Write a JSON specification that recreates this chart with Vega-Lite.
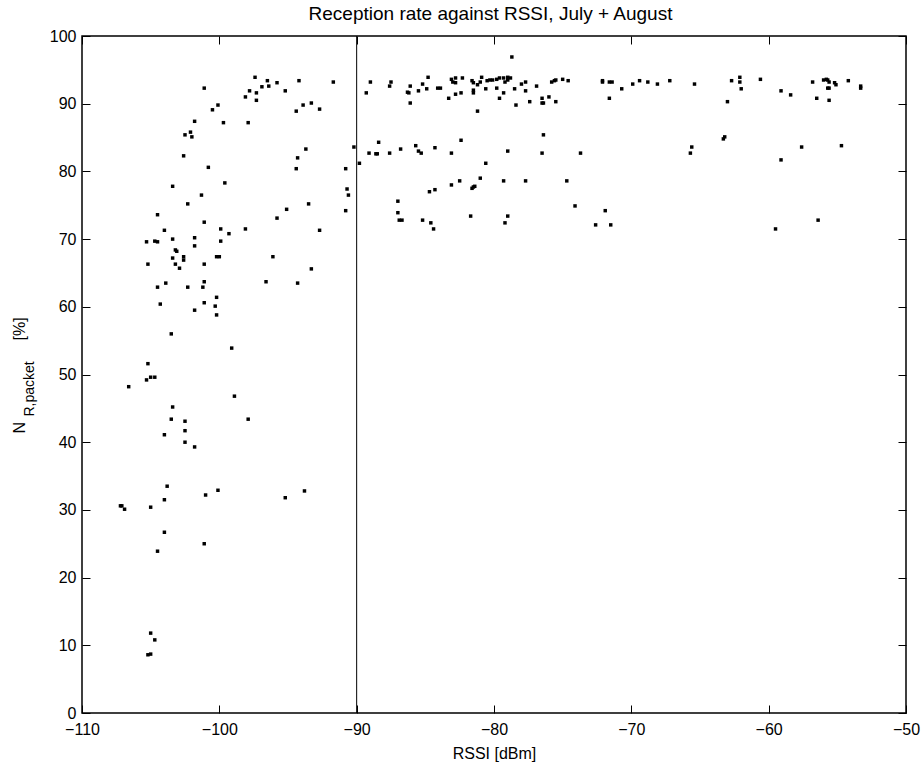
{
  "$schema": "https://vega.github.io/schema/vega-lite/v6.json",
  "width": 824,
  "height": 677,
  "autosize": {"type": "none"},
  "padding": {"left": 82, "top": 36, "right": 16, "bottom": 54},
  "background": "white",
  "config": {
    "view": {"stroke": "#000", "strokeWidth": 1.5},
    "axis": {"grid": false, "domain": false, "tickColor": "#000", "tickSize": 8, "offset": -8, "tickWidth": 1, "labelColor": "#000", "labelFont": "Liberation Sans", "labelFontSize": 16, "titleFont": "Liberation Sans", "titleColor": "#000", "titleFontWeight": "normal"}
  },
  "datasets": {
    "pts": [
      {"rssi": -97.4, "n": 93.9}, {"rssi": -96.5, "n": 93.4}, {"rssi": -96.4, "n": 92.6}, {"rssi": -96.9, "n": 92.5},
      {"rssi": -97.3, "n": 91.6}, {"rssi": -97.8, "n": 91.9}, {"rssi": -98.1, "n": 91.0}, {"rssi": -97.3, "n": 90.5},
      {"rssi": -95.8, "n": 93.1}, {"rssi": -101.1, "n": 92.3}, {"rssi": -100.1, "n": 89.8}, {"rssi": -100.5, "n": 89.1},
      {"rssi": -101.8, "n": 87.4}, {"rssi": -99.7, "n": 87.2}, {"rssi": -97.9, "n": 87.2}, {"rssi": -102.1, "n": 85.8},
      {"rssi": -102.5, "n": 85.4}, {"rssi": -102.0, "n": 85.1}, {"rssi": -102.6, "n": 82.3}, {"rssi": -100.8, "n": 80.6},
      {"rssi": -99.6, "n": 78.3}, {"rssi": -103.4, "n": 77.8}, {"rssi": -101.3, "n": 76.5}, {"rssi": -102.3, "n": 75.2},
      {"rssi": -104.5, "n": 73.6}, {"rssi": -95.8, "n": 73.1}, {"rssi": -101.1, "n": 72.5}, {"rssi": -104.0, "n": 71.3},
      {"rssi": -99.9, "n": 71.5}, {"rssi": -99.3, "n": 70.8}, {"rssi": -98.1, "n": 71.5}, {"rssi": -105.3, "n": 69.6},
      {"rssi": -104.7, "n": 69.7}, {"rssi": -104.5, "n": 69.6}, {"rssi": -103.4, "n": 70.0}, {"rssi": -101.8, "n": 70.2},
      {"rssi": -101.8, "n": 69.0}, {"rssi": -99.9, "n": 69.7}, {"rssi": -103.2, "n": 68.4}, {"rssi": -103.1, "n": 68.2},
      {"rssi": -103.4, "n": 67.2}, {"rssi": -102.6, "n": 67.4}, {"rssi": -102.6, "n": 66.9}, {"rssi": -103.2, "n": 66.3},
      {"rssi": -102.9, "n": 65.7}, {"rssi": -105.2, "n": 66.3}, {"rssi": -101.1, "n": 66.3}, {"rssi": -100.2, "n": 67.4},
      {"rssi": -100.0, "n": 67.4}, {"rssi": -96.1, "n": 67.4}, {"rssi": -96.6, "n": 63.7}, {"rssi": -104.5, "n": 62.9},
      {"rssi": -103.9, "n": 63.5}, {"rssi": -102.3, "n": 62.9}, {"rssi": -101.2, "n": 62.9}, {"rssi": -101.1, "n": 63.7},
      {"rssi": -104.3, "n": 60.4}, {"rssi": -101.1, "n": 60.6}, {"rssi": -101.8, "n": 59.5}, {"rssi": -100.2, "n": 61.4},
      {"rssi": -100.3, "n": 60.1}, {"rssi": -100.2, "n": 58.8}, {"rssi": -103.5, "n": 56.0}, {"rssi": -99.1, "n": 53.9},
      {"rssi": -105.2, "n": 51.6}, {"rssi": -105.0, "n": 49.6}, {"rssi": -104.7, "n": 49.6}, {"rssi": -105.3, "n": 49.2},
      {"rssi": -106.6, "n": 48.2}, {"rssi": -98.9, "n": 46.8}, {"rssi": -103.4, "n": 45.2}, {"rssi": -97.9, "n": 43.4},
      {"rssi": -103.5, "n": 43.4}, {"rssi": -102.5, "n": 43.1}, {"rssi": -102.5, "n": 41.7}, {"rssi": -102.5, "n": 40.0},
      {"rssi": -104.0, "n": 41.1}, {"rssi": -101.8, "n": 39.3}, {"rssi": -103.8, "n": 33.5}, {"rssi": -104.0, "n": 31.5},
      {"rssi": -100.1, "n": 32.9}, {"rssi": -101.0, "n": 32.2}, {"rssi": -107.2, "n": 30.6}, {"rssi": -107.1, "n": 30.6},
      {"rssi": -106.9, "n": 30.1}, {"rssi": -105.0, "n": 30.4}, {"rssi": -104.0, "n": 26.7}, {"rssi": -104.5, "n": 23.9},
      {"rssi": -101.1, "n": 25.0}, {"rssi": -105.0, "n": 11.8}, {"rssi": -104.7, "n": 10.8}, {"rssi": -105.2, "n": 8.6},
      {"rssi": -105.0, "n": 8.7}, {"rssi": -94.3, "n": 63.5}, {"rssi": -93.3, "n": 65.6}, {"rssi": -95.2, "n": 31.8},
      {"rssi": -93.8, "n": 32.8}, {"rssi": -94.2, "n": 93.4}, {"rssi": -91.7, "n": 93.2}, {"rssi": -95.2, "n": 91.9},
      {"rssi": -93.9, "n": 89.8}, {"rssi": -93.3, "n": 90.1}, {"rssi": -92.7, "n": 89.2}, {"rssi": -94.4, "n": 88.9},
      {"rssi": -93.7, "n": 83.3}, {"rssi": -94.3, "n": 82.0}, {"rssi": -94.4, "n": 80.4}, {"rssi": -90.8, "n": 80.4},
      {"rssi": -90.7, "n": 77.4}, {"rssi": -90.6, "n": 76.5}, {"rssi": -90.8, "n": 74.2}, {"rssi": -93.5, "n": 75.2},
      {"rssi": -95.1, "n": 74.4}, {"rssi": -92.7, "n": 71.3},
      {"rssi": -90.2, "n": 83.6}, {"rssi": -89.8, "n": 81.2}, {"rssi": -89.0, "n": 93.2}, {"rssi": -89.3, "n": 91.6},
      {"rssi": -87.6, "n": 92.6}, {"rssi": -87.5, "n": 93.2}, {"rssi": -86.1, "n": 92.6}, {"rssi": -86.3, "n": 91.7},
      {"rssi": -86.2, "n": 91.6}, {"rssi": -86.1, "n": 90.1}, {"rssi": -85.5, "n": 91.9}, {"rssi": -85.2, "n": 92.9},
      {"rssi": -84.9, "n": 92.2}, {"rssi": -84.8, "n": 93.9}, {"rssi": -84.1, "n": 92.3}, {"rssi": -83.9, "n": 92.3},
      {"rssi": -83.1, "n": 93.6}, {"rssi": -83.0, "n": 93.2}, {"rssi": -82.8, "n": 93.1}, {"rssi": -82.8, "n": 93.8},
      {"rssi": -82.3, "n": 93.8}, {"rssi": -83.3, "n": 90.8}, {"rssi": -82.8, "n": 91.4}, {"rssi": -82.4, "n": 91.6},
      {"rssi": -81.6, "n": 93.4}, {"rssi": -81.5, "n": 93.1}, {"rssi": -81.5, "n": 92.0}, {"rssi": -81.5, "n": 91.6},
      {"rssi": -81.2, "n": 92.8}, {"rssi": -81.0, "n": 93.2}, {"rssi": -80.9, "n": 93.9}, {"rssi": -81.2, "n": 88.9},
      {"rssi": -80.5, "n": 93.4}, {"rssi": -80.3, "n": 93.5}, {"rssi": -80.1, "n": 93.5}, {"rssi": -79.8, "n": 93.6},
      {"rssi": -79.6, "n": 93.8}, {"rssi": -79.3, "n": 93.8}, {"rssi": -79.0, "n": 93.9}, {"rssi": -78.8, "n": 93.8},
      {"rssi": -80.6, "n": 92.2}, {"rssi": -79.8, "n": 92.3}, {"rssi": -79.3, "n": 91.6}, {"rssi": -79.6, "n": 90.8},
      {"rssi": -79.2, "n": 93.2}, {"rssi": -79.0, "n": 93.5}, {"rssi": -78.7, "n": 96.9}, {"rssi": -78.5, "n": 92.2},
      {"rssi": -78.4, "n": 89.8}, {"rssi": -78.0, "n": 92.9}, {"rssi": -77.7, "n": 93.2}, {"rssi": -77.7, "n": 91.9},
      {"rssi": -77.4, "n": 90.3}, {"rssi": -76.9, "n": 92.6}, {"rssi": -76.5, "n": 90.8}, {"rssi": -76.5, "n": 90.1},
      {"rssi": -76.4, "n": 90.1}, {"rssi": -76.0, "n": 91.0}, {"rssi": -75.8, "n": 93.2}, {"rssi": -75.6, "n": 93.4},
      {"rssi": -75.5, "n": 93.5}, {"rssi": -75.5, "n": 90.3}, {"rssi": -75.0, "n": 93.6}, {"rssi": -74.6, "n": 93.4},
      {"rssi": -88.4, "n": 84.3}, {"rssi": -89.1, "n": 82.7}, {"rssi": -88.6, "n": 82.6}, {"rssi": -88.5, "n": 82.6},
      {"rssi": -87.6, "n": 82.7}, {"rssi": -86.8, "n": 83.3}, {"rssi": -85.7, "n": 83.8}, {"rssi": -85.5, "n": 83.0},
      {"rssi": -85.3, "n": 82.7}, {"rssi": -84.3, "n": 83.5}, {"rssi": -83.1, "n": 82.7}, {"rssi": -82.4, "n": 84.6},
      {"rssi": -80.6, "n": 81.2}, {"rssi": -79.0, "n": 83.0}, {"rssi": -76.5, "n": 82.7}, {"rssi": -76.4, "n": 85.4},
      {"rssi": -73.7, "n": 82.7},
      {"rssi": -87.0, "n": 75.6}, {"rssi": -87.0, "n": 73.9}, {"rssi": -86.9, "n": 72.8}, {"rssi": -86.7, "n": 72.8},
      {"rssi": -85.2, "n": 72.8}, {"rssi": -84.6, "n": 72.4}, {"rssi": -84.4, "n": 71.5}, {"rssi": -84.7, "n": 77.0},
      {"rssi": -84.3, "n": 77.3}, {"rssi": -83.1, "n": 78.0}, {"rssi": -82.5, "n": 78.6}, {"rssi": -81.0, "n": 79.0},
      {"rssi": -81.6, "n": 77.5}, {"rssi": -81.5, "n": 77.7}, {"rssi": -81.4, "n": 77.8}, {"rssi": -81.7, "n": 73.4},
      {"rssi": -79.3, "n": 78.6}, {"rssi": -79.0, "n": 73.4}, {"rssi": -79.2, "n": 72.4}, {"rssi": -77.7, "n": 78.6},
      {"rssi": -74.7, "n": 78.6}, {"rssi": -74.1, "n": 74.9},
      {"rssi": -72.1, "n": 93.4}, {"rssi": -72.1, "n": 93.2}, {"rssi": -71.6, "n": 93.2}, {"rssi": -71.4, "n": 93.2},
      {"rssi": -70.7, "n": 92.2}, {"rssi": -71.6, "n": 90.8}, {"rssi": -69.9, "n": 92.9}, {"rssi": -69.4, "n": 93.4},
      {"rssi": -68.8, "n": 93.2}, {"rssi": -68.1, "n": 92.9}, {"rssi": -67.2, "n": 93.4}, {"rssi": -65.4, "n": 92.9},
      {"rssi": -63.0, "n": 90.3}, {"rssi": -62.7, "n": 93.4}, {"rssi": -62.1, "n": 93.9}, {"rssi": -62.1, "n": 93.2},
      {"rssi": -62.0, "n": 92.2}, {"rssi": -60.6, "n": 93.6}, {"rssi": -59.1, "n": 91.9}, {"rssi": -58.4, "n": 91.3},
      {"rssi": -56.8, "n": 93.2}, {"rssi": -56.5, "n": 90.8}, {"rssi": -56.0, "n": 93.5}, {"rssi": -55.8, "n": 93.6},
      {"rssi": -55.7, "n": 93.5}, {"rssi": -55.6, "n": 93.2}, {"rssi": -55.7, "n": 92.3}, {"rssi": -55.6, "n": 92.3},
      {"rssi": -55.2, "n": 93.1}, {"rssi": -55.1, "n": 92.8}, {"rssi": -55.6, "n": 90.5}, {"rssi": -54.2, "n": 93.4},
      {"rssi": -53.3, "n": 92.6}, {"rssi": -53.3, "n": 92.3},
      {"rssi": -65.6, "n": 83.6}, {"rssi": -65.7, "n": 82.7}, {"rssi": -63.3, "n": 84.8}, {"rssi": -63.2, "n": 85.1},
      {"rssi": -59.1, "n": 81.7}, {"rssi": -57.6, "n": 83.6}, {"rssi": -54.7, "n": 83.8},
      {"rssi": -71.9, "n": 74.2}, {"rssi": -72.6, "n": 72.1}, {"rssi": -71.5, "n": 72.1}, {"rssi": -59.5, "n": 71.5},
      {"rssi": -56.4, "n": 72.8}
    ],
    "line": [{"v": -90}]
  },
  "layer": [
    {
      "data": {"name": "pts"},
      "mark": {"type": "square", "size": 12, "color": "#000", "opacity": 1},
      "encoding": {
        "x": {"field": "rssi", "type": "quantitative", "scale": {"domain": [-110, -50], "nice": false, "zero": false},
              "axis": {"orient": "bottom", "values": [-110, -100, -90, -80, -70, -60, -50], "labelPadding": 8, "title": "RSSI [dBm]", "titleFontSize": 16, "titlePadding": 8, "labelFlush": false}},
        "y": {"field": "n", "type": "quantitative", "scale": {"domain": [0, 100], "nice": false},
              "axis": {"orient": "left", "values": [0, 10, 20, 30, 40, 50, 60, 70, 80, 90, 100], "labelPadding": 6, "labelFlush": false,
                       "title": "N", "titleFontSize": 16, "titleAngle": -90, "titleAlign": "left", "titleBaseline": "alphabetic", "titleX": -66, "titleY": 397}}
      }
    },
    {
      "data": {"name": "line"},
      "mark": {"type": "rule", "color": "#000", "strokeWidth": 1},
      "encoding": {
        "x": {"field": "v", "type": "quantitative",
              "axis": {"orient": "top", "values": [-110, -100, -90, -80, -70, -60, -50], "labels": false,
                       "title": "Reception rate against RSSI, July + August", "titleFontSize": 19, "titleAngle": 0, "titleAlign": "center", "titleBaseline": "alphabetic", "titleX": 408, "titleY": -25}}
      }
    },
    {
      "data": {"name": "line"},
      "mark": {"type": "rule", "opacity": 0},
      "encoding": {
        "x": {"field": "v", "type": "quantitative",
              "axis": {"orient": "bottom", "labels": false, "ticks": false, "domain": false, "offset": 0,
                       "title": "[%]", "titleFontSize": 16, "titleAngle": -90, "titleAlign": "left", "titleBaseline": "alphabetic", "titleX": -58, "titleY": -373}},
        "y": {"datum": 50, "type": "quantitative",
              "axis": {"orient": "right", "values": [0, 10, 20, 30, 40, 50, 60, 70, 80, 90, 100], "labels": false,
                       "title": "R,packet", "titleFontSize": 14, "titleAngle": -90, "titleAlign": "left", "titleBaseline": "alphabetic", "titleX": -865, "titleY": 380}}
      }
    }
  ],
  "resolve": {"axis": {"x": "independent", "y": "independent"}}
}
